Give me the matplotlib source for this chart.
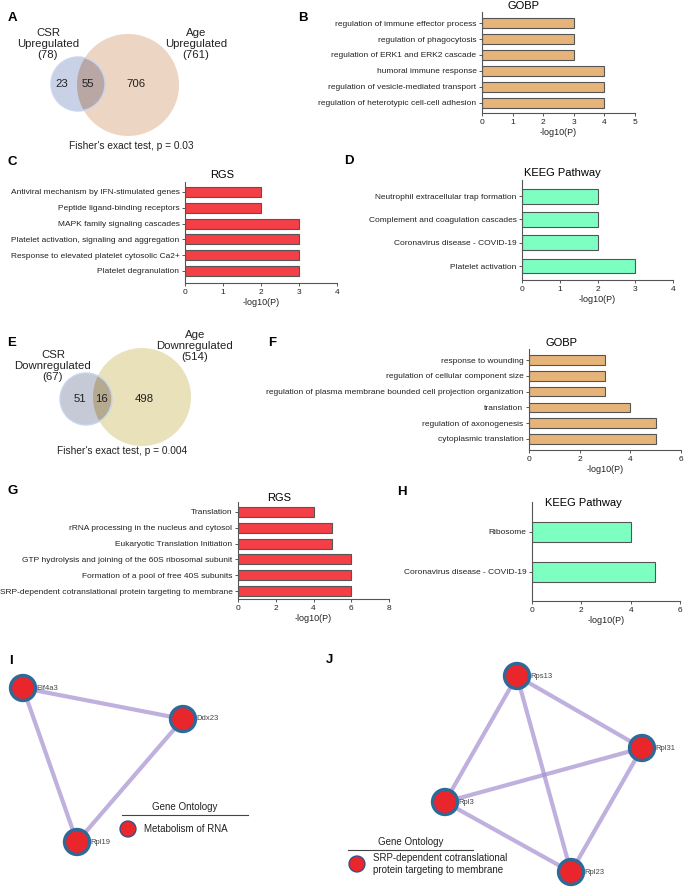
import numpy as np
import matplotlib
matplotlib.use("Agg")
import matplotlib.pyplot as plt
from matplotlib.patches import Circle

plt.rcParams['font.family'] = ['Liberation Sans', 'DejaVu Sans']

W, H = 685, 892

# ---- data ----
a_counts = [23, 55, 706]          # CSR only, both, Age only
a_totals = [78, 761]
e_counts = [51, 16, 498]
e_totals = [67, 514]

b_terms = ["regulation of immune effector process", "regulation of phagocytosis",
           "regulation of ERK1 and ERK2 cascade", "humoral immune response",
           "regulation of vesicle-mediated transport",
           "regulation of heterotypic cell-cell adhesion"]
b_vals = [3, 3, 3, 4, 4, 4]

c_terms = ["Antiviral mechanism by IFN-stimulated genes", "Peptide ligand-binding receptors",
           "MAPK family signaling cascades", "Platelet activation, signaling and aggregation",
           "Response to elevated platelet cytosolic Ca2+", "Platelet degranulation"]
c_vals = [2, 2, 3, 3, 3, 3]

d_terms = ["Neutrophil extracellular trap formation", "Complement and coagulation cascades",
           "Coronavirus disease - COVID-19", "Platelet activation"]
d_vals = [2, 2, 2, 3]

f_terms = ["response to wounding", "regulation of cellular component size",
           "regulation of plasma membrane bounded cell projection organization",
           "translation", "regulation of axonogenesis", "cytoplasmic translation"]
f_vals = [3, 3, 3, 4, 5, 5]

g_terms = ["Translation", "rRNA processing in the nucleus and cytosol",
           "Eukaryotic Translation Initiation",
           "GTP hydrolysis and joining of the 60S ribosomal subunit",
           "Formation of a pool of free 40S subunits",
           "SRP-dependent cotranslational protein targeting to membrane"]
g_vals = [4, 5, 5, 6, 6, 6]

h_terms = ["Ribosome", "Coronavirus disease - COVID-19"]
h_vals = [4, 5]

# network layouts (pixel positions)
i_nodes = {"Eif4a3": (23, 688), "Ddx23": (183, 719), "Rpl19": (77, 842)}
i_edges = [("Eif4a3", "Ddx23"), ("Eif4a3", "Rpl19"), ("Ddx23", "Rpl19")]
j_nodes = {"Rps13": (517, 676), "Rpl31": (642, 748), "Rpl3": (445, 802), "Rpl23": (571, 872)}
j_edges = [("Rps13", "Rpl31"), ("Rps13", "Rpl3"), ("Rps13", "Rpl23"),
           ("Rpl31", "Rpl3"), ("Rpl31", "Rpl23"), ("Rpl3", "Rpl23")]

fig = plt.figure(figsize=(W / 100, H / 100), dpi=100)
over = fig.add_axes([0, 0, 1, 1])
over.set_xlim(0, W)
over.set_ylim(H, 0)
over.axis('off')


def px_axes(left, top, right, bottom):
    return fig.add_axes([left / W, 1 - bottom / H, (right - left) / W, (bottom - top) / H])


def bar_panel(box, terms, vals, color, xmax, step, pads, bar_h, title, title_xy):
    ax = px_axes(*box)
    ax.patch.set_alpha(0)
    y = np.arange(len(terms))[::-1]
    ax.barh(y, vals, height=bar_h, color=color, edgecolor='#555555', linewidth=0.8)
    ax.set_yticks(y)
    ax.set_yticklabels(terms)
    ax.set_xlim(0, xmax)
    ax.set_xticks(np.arange(0, xmax + 1, step))
    ax.set_ylim(-pads[0], len(terms) - 1 + pads[1])
    for s in ['top', 'right']:
        ax.spines[s].set_visible(False)
    for s in ['left', 'bottom']:
        ax.spines[s].set_color('#555555')
        ax.spines[s].set_linewidth(0.8)
    ax.tick_params(length=2.5, width=0.7, colors='#555555', labelsize=6,
                   labelcolor='#222222', pad=1.5)
    ax.set_xlabel('-log10(P)', fontsize=6.5, labelpad=2, color='#222222')
    over.text(title_xy[0], title_xy[1], title, ha='center', va='center', fontsize=8)
    return ax


def venn(big_c, big_r, small_c, small_r, big_col, small_col, inter_col, counts,
         left_lab, right_lab, left_xy, right_xy, fisher, fisher_xy, num_x):
    big = Circle(big_c, big_r, fc=big_col, ec='none')
    over.add_patch(big)
    over.add_patch(Circle(small_c, small_r, fc=small_col, ec='none'))
    inter = Circle(small_c, small_r, fc=inter_col, ec='none')
    over.add_patch(inter)
    inter.set_clip_path(big)
    over.add_patch(Circle(small_c, small_r, fc='none', ec='#c8d6ee', lw=1.0))
    for n, x in zip(counts, num_x):
        over.text(x, small_c[1], str(n), ha='center', va='center', fontsize=8.2, color='#222222')
    over.text(left_xy[0], left_xy[1], left_lab, ha='center', va='center', fontsize=8.2,
              linespacing=1.15, color='#222222')
    over.text(right_xy[0], right_xy[1], right_lab, ha='center', va='center', fontsize=8.2,
              linespacing=1.15, color='#222222')
    over.text(fisher_xy[0], fisher_xy[1], fisher, ha='center', va='center', fontsize=7.3,
              color='#222222')


def network(nodes, edges, legend_xy, legend_line, legend_text):
    for a, b in edges:
        (x0, y0), (x1, y1) = nodes[a], nodes[b]
        over.plot([x0, x1], [y0, y1], color='#a48fd0', alpha=0.7, lw=3, solid_capstyle='butt',
                  zorder=2)
    for name, (x, y) in nodes.items():
        over.add_patch(Circle((x, y), 12.5, fc='#e8262b', ec='#2d6a98', lw=2.4, zorder=3))
        over.text(x + 13.5, y, name, ha='left', va='center', fontsize=5.5, color='#444444',
                  zorder=4)
    lx, ly = legend_xy
    over.text((legend_line[0] + legend_line[1]) / 2, ly, "Gene Ontology", ha='center',
              va='center', fontsize=7, color='#222222')
    over.plot(legend_line, [ly + 8, ly + 8], color='#444444', lw=0.8)
    over.add_patch(Circle((lx, ly + 22), 8, fc='#e8262b', ec='#2d4d8c', lw=0.9))
    over.text(lx + 16, ly + 22, legend_text, ha='left', va='center', fontsize=7,
              linespacing=1.2, color='#222222')


# ---- A / E venns ----
venn((128, 85), 51, (78, 84), 27, '#ecd5c3', '#c8d1e5', '#b9a7a6', a_counts,
     "CSR\nUpregulated\n(%d)" % a_totals[0], "Age\nUpregulated\n(%d)" % a_totals[1],
     (48, 44), (196, 44), "Fisher's exact test, p = 0.03", (131, 146), (62, 88, 136))
venn((142, 397), 49, (86, 399), 26, '#e9e1ba', '#c6cad6', '#b5aa90', e_counts,
     "CSR\nDownregulated\n(%d)" % e_totals[0], "Age\nDownregulated\n(%d)" % e_totals[1],
     (53, 366), (195, 346), "Fisher's exact test, p = 0.004", (122, 451), (80, 101, 144))

# ---- bar panels ----
bar_panel((482, 12, 635, 113), b_terms, b_vals, '#e6b479', 5, 1, (0.63, 0.69), 0.63,
          "GOBP", (524, 6))
bar_panel((185, 182, 337, 283), c_terms, c_vals, '#f43f47', 4, 1, (0.76, 0.63), 0.63,
          "RGS", (222, 175))
bar_panel((522, 180, 673, 280), d_terms, d_vals, '#7effc2', 4, 1, (0.6, 0.69), 0.64,
          "KEEG Pathway", (562, 173))
bar_panel((529, 349, 681, 450), f_terms, f_vals, '#e6b479', 6, 2, (0.7, 0.7), 0.6,
          "GOBP", (562, 343))
bar_panel((238, 502, 389, 599), g_terms, g_vals, '#f43f47', 8, 2, (0.5, 0.63), 0.63,
          "RGS", (279, 498))
bar_panel((532, 502, 680, 601), h_terms, h_vals, '#7effc2', 6, 2, (0.73, 0.75), 0.5,
          "KEEG Pathway", (583, 503))

# ---- networks ----
network(i_nodes, i_edges, (128, 807), [122, 248], "Metabolism of RNA")
network(j_nodes, j_edges, (357, 842), [348, 473],
        "SRP-dependent cotranslational\nprotein targeting to membrane")

# ---- panel letters ----
letters = {"A": (12, 18), "B": (303, 18), "C": (12, 162), "D": (349, 161),
           "E": (12, 343), "F": (272, 343), "G": (13, 491), "H": (402, 492),
           "I": (11, 661), "J": (329, 660)}
for k, (x, y) in letters.items():
    over.text(x, y, k, ha='center', va='center', fontsize=9.5, fontweight='bold')

fig.savefig("out.png", dpi=100)
